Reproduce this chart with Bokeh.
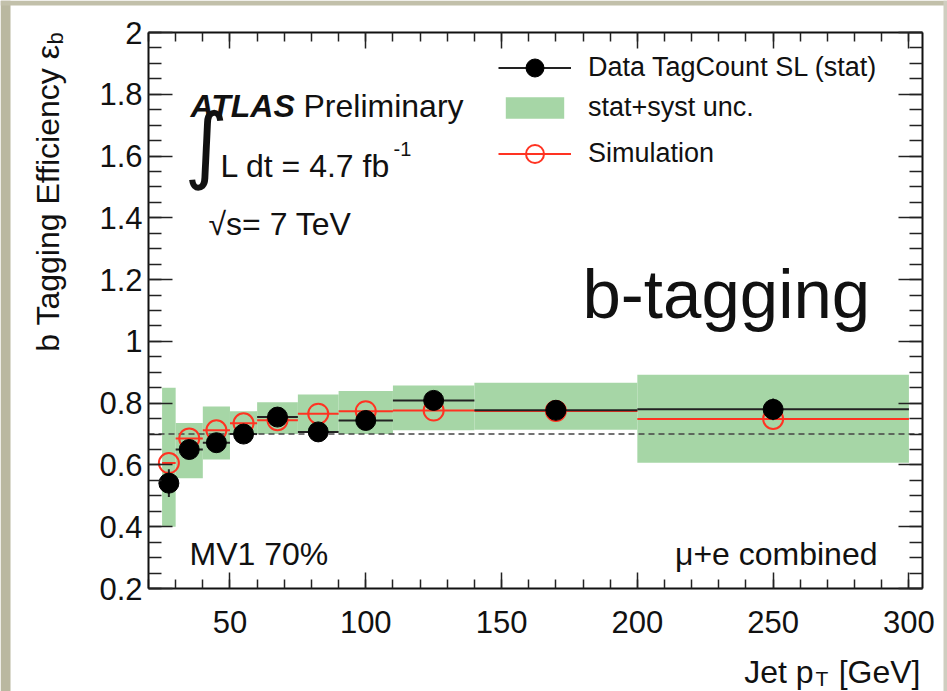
import numpy as np
from bokeh.plotting import figure
from bokeh.models import (Range1d, LinearAxis, FixedTicker, CustomJSTickFormatter,
                          Label, Legend, LegendItem, ColumnDataSource, BoxAnnotation)
from bokeh.embed import file_html
from bokeh.resources import INLINE

# ---------------- data ----------------
bin_lo = [25, 30, 40, 50, 60, 75, 90, 110, 140, 200]
bin_hi = [30, 40, 50, 60, 75, 90, 110, 140, 200, 300]
pt_center = [27.5, 35, 45, 55, 67.5, 82.5, 100, 125, 170, 250]
eff_data = [0.541, 0.650, 0.672, 0.700, 0.755, 0.707, 0.744, 0.809, 0.777, 0.780]
eff_data_stat = [0.045, 0.015, 0.012, 0.010, 0.012, 0.012, 0.015, 0.020, 0.025, 0.035]
eff_sim = [0.606, 0.686, 0.712, 0.735, 0.745, 0.766, 0.774, 0.776, 0.775, 0.749]
band_low = [0.400, 0.557, 0.618, 0.700, 0.700, 0.708, 0.700, 0.712, 0.714, 0.607]
band_high = [0.850, 0.736, 0.789, 0.774, 0.803, 0.828, 0.839, 0.857, 0.866, 0.892]
ref_eff = 0.7

y_major = [0.2, 0.4, 0.6, 0.8, 1.0, 1.2, 1.4, 1.6, 1.8, 2.0]
y_minor = [round(v, 2) for v in np.arange(0.2, 2.0001, 0.05)]
x_major = [50, 100, 150, 200, 250, 300]
x_minor = list(range(20, 301, 10))

# axis box (data space)
AX_X0, AX_X1 = 20, 305
AX_Y0, AX_Y1 = 0.2, 2.0

# canvas / frame geometry (pixels)
W, H = 947, 691
BOX_L, BOX_T, BOX_W, BOX_H = 148, 32, 774, 556
SX = BOX_W / (AX_X1 - AX_X0)
SY = BOX_H / (AX_Y1 - AX_Y0)
X0 = AX_X0 - BOX_L / SX
X1 = X0 + W / SX
Y1 = AX_Y1 + BOX_T / SY
Y0 = Y1 - H / SY

def px2x(px):
    return X0 + px / SX

def py2y(py):
    return Y1 - py / SY

FONT = "Liberation Sans"
RED = "#ff3322"

src = ColumnDataSource(dict(
    lo=bin_lo, hi=bin_hi, x=pt_center, d=eff_data,
    dlo=[v - e for v, e in zip(eff_data, eff_data_stat)],
    dhi=[v + e for v, e in zip(eff_data, eff_data_stat)],
    s=eff_sim, blo=band_low, bhi=band_high))

p = figure(width=W, height=H, x_range=Range1d(X0, X1), y_range=Range1d(Y0, Y1),
           output_backend="svg", toolbar_location=None,
           x_axis_location=None, y_axis_location=None, min_border=0)
p.grid.visible = False
p.outline_line_color = None
p.background_fill_color = "white"
p.border_fill_color = "white"

# frame decoration (slide border)
p.add_layout(BoxAnnotation(right=px2x(10), fill_color="#bab8a0", fill_alpha=1, line_color=None))
p.add_layout(BoxAnnotation(bottom=py2y(5), fill_color="#c2c0aa", fill_alpha=1, line_color=None))
p.add_layout(BoxAnnotation(left=px2x(943), fill_color="#cfcec0", fill_alpha=1, line_color=None))

def style(ax, major_in, minor_in, labels=True):
    ax.axis_line_color = "#111111"
    ax.axis_line_width = 2
    ax.major_tick_in = major_in
    ax.major_tick_out = 0
    ax.minor_tick_in = minor_in
    ax.minor_tick_out = 0
    ax.major_tick_line_color = "#222222"
    ax.minor_tick_line_color = "#222222"
    ax.major_tick_line_width = 1.5
    ax.minor_tick_line_width = 1.5
    ax.major_label_text_font = FONT
    ax.major_label_text_color = "#111111"
    if labels:
        ax.major_label_text_font_size = "31px"
    else:
        ax.major_label_text_font_size = "0px"
        ax.major_label_text_alpha = 0

yfmt = CustomJSTickFormatter(code="return String(Math.round(tick*10)/10);")

xb = LinearAxis(ticker=FixedTicker(ticks=x_major, minor_ticks=x_minor),
                fixed_location=AX_Y0, bounds=(AX_X0, AX_X1))
style(xb, 16, 9)
xb.major_label_standoff = 22
p.add_layout(xb, "below")

xa = LinearAxis(ticker=FixedTicker(ticks=x_major, minor_ticks=x_minor),
                fixed_location=AX_Y1, bounds=(AX_X0, AX_X1))
style(xa, 16, 9, labels=False)
p.add_layout(xa, "above")

yl = LinearAxis(ticker=FixedTicker(ticks=y_major, minor_ticks=y_minor), formatter=yfmt,
                fixed_location=AX_X0, bounds=(AX_Y0, AX_Y1))
style(yl, 24, 13)
yl.major_label_standoff = 6
p.add_layout(yl, "left")

yr = LinearAxis(ticker=FixedTicker(ticks=y_major, minor_ticks=y_minor),
                fixed_location=AX_X1, bounds=(AX_Y0, AX_Y1))
style(yr, 24, 13, labels=False)
p.add_layout(yr, "right")

# ---------------- glyphs ----------------
band = p.quad(left="lo", right="hi", bottom="blo", top="bhi", source=src,
              fill_color="#a6d6a6", line_color=None)
p.segment(x0=[AX_X0], y0=[ref_eff], x1=[AX_X1], y1=[ref_eff],
          line_color="#444444", line_width=1.5, line_dash="6 4")

mc_line = p.segment(x0="lo", y0="s", x1="hi", y1="s", source=src,
                    line_color=RED, line_width=2)
mc_pts = p.scatter(x="x", y="s", source=src, marker="circle", size=20,
                   fill_color=None, line_color=RED, line_width=2)
d_line = p.segment(x0="lo", y0="d", x1="hi", y1="d", source=src,
                   line_color="#222222", line_width=2)
d_err = p.segment(x0="x", y0="dlo", x1="x", y1="dhi", source=src,
                  line_color="#222222", line_width=2)
d_pts = p.scatter(x="x", y="d", source=src, marker="circle", size=20,
                  fill_color="black", line_color="black")

def make_legend(items, loc, gh, spacing):
    lg = Legend(items=items, location=loc)
    lg.label_text_font = FONT
    lg.label_text_font_size = "27px"
    lg.label_text_color = "#111111"
    lg.border_line_color = None
    lg.background_fill_alpha = 0
    lg.padding = 0
    lg.margin = 0
    lg.glyph_width = 73
    lg.glyph_height = gh
    lg.label_height = 27
    lg.label_standoff = 17
    lg.spacing = spacing
    p.add_layout(lg)

make_legend([LegendItem(label="Data TagCount SL (stat)", renderers=[d_line, d_pts]),
             LegendItem(label="Simulation", renderers=[mc_line, mc_pts])],
            (498, H - 175.5), 45, 41)
make_legend([LegendItem(label="stat+syst unc.", renderers=[band])],
            (498, H - 122.5), 27, 0)

# ---------------- text ----------------
def lab(px, py, text, size, style="normal", align="left", angle=0.0, font=FONT):
    p.add_layout(Label(x=px2x(px), y=py2y(py), text=text, text_font=font,
                       text_font_size=f"{size}px", text_font_style=style,
                       text_align=align, text_baseline="alphabetic", angle=angle,
                       text_color="#111111"))

lab(190, 105, "ATLAS", 32, style="bold italic")
lab(303, 105, "Preliminary", 32)
lab(184, 143, "\u222b", 84, font="DejaVu Sans")
lab(220, 165, "L dt = 4.7 fb", 32)
lab(393, 148, "-1", 20)
lab(208, 223, "\u221as= 7 TeV", 32)
lab(582, 294, "b-tagging", 69)
lab(189, 553, "MV1 70%", 32)
lab(877, 553, "\u03bc+e combined", 32, align="right")
# axis titles
lab(47, 44, "b Tagging Efficiency \u03b5", 32, align="right", angle=np.pi / 2)
lab(55, 44, "b", 22, align="left", angle=np.pi / 2)
lab(813, 671, "Jet p", 32, align="right")
lab(815, 678, "T", 21)
lab(920, 671, "[GeV]", 32, align="right")

open("out.html", "w").write(file_html(p, INLINE))
